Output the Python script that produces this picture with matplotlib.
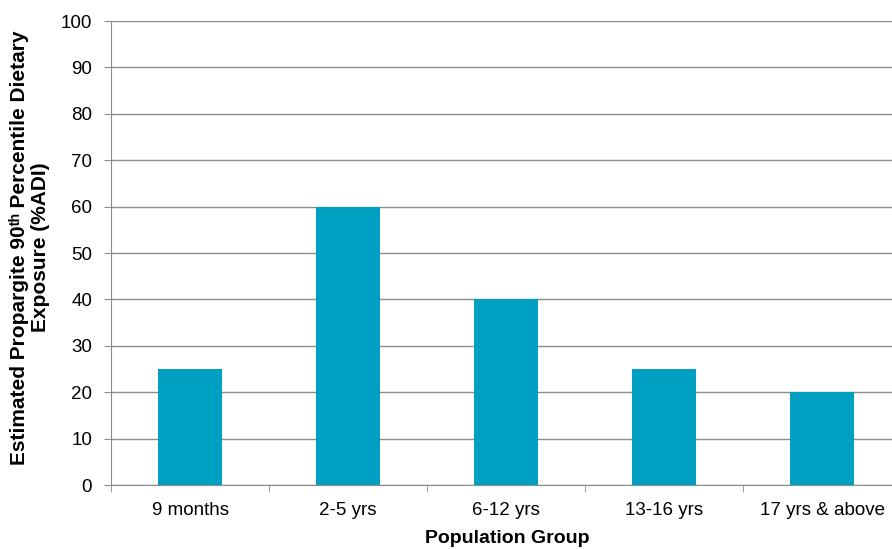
import matplotlib
matplotlib.use("Agg")
import matplotlib.pyplot as plt

categories = ["9 months", "2-5 yrs", "6-12 yrs", "13-16 yrs", "17 yrs & above"]
exposure = [25, 60, 40, 25, 20]
y_ticks = list(range(0, 101, 10))

plt.rcParams["font.family"] = ["Liberation Sans", "DejaVu Sans"]

fig = plt.figure(figsize=(8.92, 5.49), dpi=100)
ax = fig.add_axes([111 / 892, 64 / 549, 781 / 892, 464 / 549])

x = list(range(len(categories)))
ax.bar(x, exposure, width=0.4, color="#00A0C3", zorder=3)

ax.set_yticks(y_ticks)
ax.set_yticklabels([str(t) for t in y_ticks], fontsize=13.5)
ax.yaxis.grid(True, color="#8c8c8c", linewidth=1, zorder=0)

ax.set_xticks(x)
ax.set_xticklabels(categories, fontsize=13.5)
ax.tick_params(axis="x", length=0, pad=12)
ax.set_xticks([i - 0.5 for i in range(len(categories) + 1)], minor=True)
ax.tick_params(axis="x", which="minor", length=5, color="#8c8c8c", direction="out")
ax.tick_params(axis="y", length=5, color="#8c8c8c", direction="out", pad=8.5)

# the category grid runs past the right edge of the figure
ax.set_ylim(0, 100)
ax.set_xlim(-0.5, -0.5 + 781 / 158)

for side in ["top", "right"]:
    ax.spines[side].set_visible(False)
ax.spines["left"].set_color("#8c8c8c")
ax.spines["bottom"].set_color("#8c8c8c")

ax.set_xlabel("Population Group", fontsize=14, fontweight="bold")
ax.xaxis.set_label_coords((507 - 111) / 781, -(530 - 485) / 464)
ax.xaxis.label.set_va("top")

ax.set_ylabel("Estimated Propargite 90\u1d57\u02b0 Percentile Dietary\nExposure (%ADI)",
              fontsize=15, fontweight="bold", linespacing=1.12)
ax.yaxis.set_label_coords((50 - 111) / 781, 0.512)

fig.savefig("out.png", dpi=100)
